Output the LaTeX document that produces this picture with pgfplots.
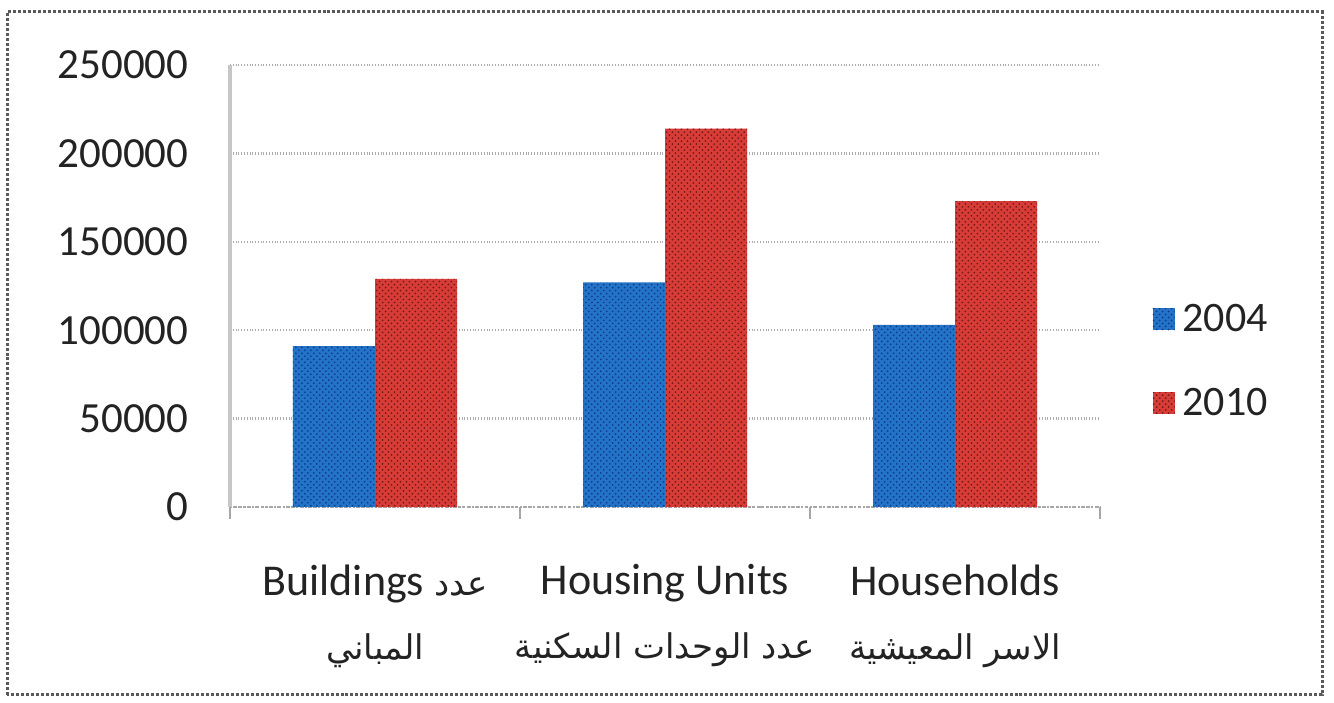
\documentclass[border=0pt]{standalone}
\usepackage{fontspec}
\setmainfont{Carlito}
\newfontfamily\arabicfont[Script=Arabic]{DejaVu Sans}
\TeXXeTstate=1
\usepackage{pgfplots}
\pgfplotsset{compat=1.18}
\usetikzlibrary{patterns}
\definecolor{bblue}{RGB}{35,115,200}
\definecolor{bbluedk}{RGB}{15,60,140}
\definecolor{rred}{RGB}{215,60,55}
\definecolor{rreddk}{RGB}{120,25,25}
\definecolor{txt}{RGB}{35,35,35}
\newcommand\arf{\arabicfont\fontsize{17bp}{20bp}\selectfont}
\begin{document}
\begin{tikzpicture}
\useasboundingbox (0,0) rectangle (667bp,351.5bp);
\draw[gray!70!black, densely dotted, line width=1.5bp] (3.5bp,4bp) rectangle (661bp,345.5bp);
\begin{axis}[
  at={(115bp,98bp)}, anchor=south west,
  scale only axis, width=435bp, height=221bp,
  xmin=-0.5, xmax=2.5, ymin=0, ymax=250000,
  ytick={0,50000,100000,150000,200000,250000},
  scaled y ticks=false,
  yticklabel style={/pgf/number format/fixed, /pgf/number format/1000 sep={}, /pgf/number format/assume math mode=true, font=\fontsize{21.5bp}{26bp}\selectfont, text=txt, xshift=-13bp},
  ytick style={draw=none},
  xtick={0,1,2},
  xticklabels={{Buildings {\arf\beginR عدد\endR}\\[4bp]{\arf\beginR المباني\endR}},{Housing Units\\[4bp]{\arf\beginR عدد الوحدات السكنية\endR}},{Households\\[4bp]{\arf\beginR الاسر المعيشية\endR}}},
  xticklabel style={align=center, font=\fontsize{22bp}{28bp}\selectfont, text=txt, yshift=-21bp},
  major x tick style={draw=none},
  minor xtick={-0.5,0.5,1.5,2.5},
  minor x tick style={gray!70, line width=1bp},
  minor tick length=6bp,
  tick align=outside,
  axis lines*=left,
  x axis line style={gray!70, densely dotted, line width=1.2bp},
  y axis line style={gray!45, line width=2bp},
  ymajorgrids,
  major grid style={gray!65, densely dotted, line width=1.2bp},
  ybar=0pt, bar width=41bp,
  legend style={at={(1.06,0.33)}, anchor=west, draw=none, fill=none, font=\fontsize{21bp}{25bp}\selectfont, text=txt, row sep=23bp, inner sep=0pt, nodes={inner xsep=4bp}},
  legend cell align=left,
  legend image code/.code={\fill[#1] (0bp,-5.5bp) rectangle (11bp,5.5bp);},
]
\addplot[fill=bblue, draw=none, postaction={pattern=crosshatch dots, pattern color=bbluedk}] coordinates {(0,91000) (1,127000) (2,103000)};
\addplot[fill=rred, draw=none, postaction={pattern=crosshatch dots, pattern color=rreddk}] coordinates {(0,129000) (1,214000) (2,173000)};
\legend{2004,2010}
\end{axis}
\end{tikzpicture}
\end{document}
